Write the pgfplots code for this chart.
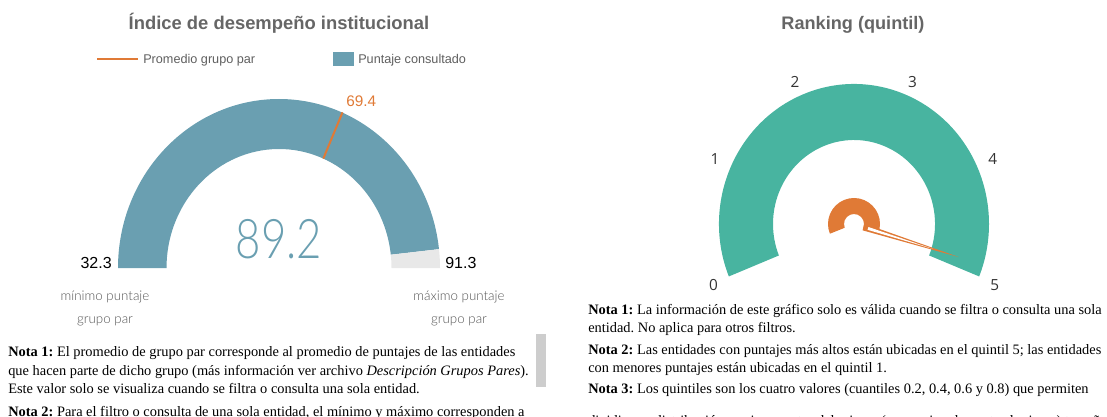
\documentclass[border=0pt]{standalone}
\usepackage{pgfplots}
\pgfplotsset{compat=1.18}
\usepackage{fontspec}
\setmainfont{Liberation Serif}
\newfontfamily\sansf{Liberation Sans}
\newfontfamily\uif{Open Sans}
\newfontfamily\lightf{Lato Light}
\definecolor{gteal}{HTML}{6A9FB1}
\definecolor{ggray}{HTML}{E8E8E8}
\definecolor{ggreen}{HTML}{48B4A0}
\definecolor{gorange}{HTML}{E07A36}
\definecolor{ttl}{HTML}{666666}
\definecolor{legtxt}{HTML}{5F5F5F}
\definecolor{capt}{HTML}{555555}
\definecolor{scroll}{HTML}{CDCDCD}
\definecolor{ticktxt}{HTML}{333333}
% ---- data ----
\def\gmin{32.3}\def\gmax{91.3}\def\gval{89.2}\def\gavg{69.4}
\def\qmin{0}\def\qmax{5}\def\qval{4.9}
\begin{document}
\frenchspacing
\begin{tikzpicture}
\pgfmathsetmacro\tv{180*(1-(\gval-\gmin)/(\gmax-\gmin))}
\pgfmathsetmacro\ta{180*(1-(\gavg-\gmin)/(\gmax-\gmin))}
\pgfmathsetmacro\tq{202-224*(\qval-\qmin)/(\qmax-\qmin)}
\begin{axis}[x=0.75pt,y=0.75pt,xmin=0,xmax=1107,ymin=0,ymax=417,y dir=reverse,
  hide axis,clip=false,scale only axis]
% ---------- left gauge ----------
\begin{scope}[shift={(axis cs:279,268)}]
\fill[gteal] (180:120.75pt and 126.75pt) arc[start angle=180,end angle=\tv,x radius=120.75pt,y radius=126.75pt]
  -- (\tv:84.375pt and 89.25pt) arc[start angle=\tv,end angle=180,x radius=84.375pt,y radius=89.25pt] -- cycle;
\fill[ggray] (\tv:120.75pt and 126.75pt) arc[start angle=\tv,end angle=0,x radius=120.75pt,y radius=126.75pt]
  -- (0:84.375pt and 89.25pt) arc[start angle=0,end angle=\tv,x radius=84.375pt,y radius=89.25pt] -- cycle;
\draw[gorange,line width=1.5pt] (\ta:84.375pt and 89.25pt) -- (\ta:121pt and 127pt);
\end{scope}
\node[font=\sansf\fontsize{11.5pt}{11.5pt}\selectfont,text=gorange,anchor=base west,inner sep=0pt] at (axis cs:346,107) {\gavg};
\node[font=\lightf\fontsize{41pt}{41pt}\selectfont,text=gteal,xscale=0.8,anchor=base] at (axis cs:279,258) {\gval};
\node[font=\sansf\fontsize{12pt}{12pt}\selectfont,anchor=base east,inner sep=0pt] at (axis cs:112,268) {\gmin};
\node[font=\sansf\fontsize{12pt}{12pt}\selectfont,anchor=base west,inner sep=0pt] at (axis cs:445,268) {\gmax};
\node[font=\lightf\fontsize{10pt}{10pt}\selectfont,text=capt,anchor=base] at (axis cs:105,300) {mínimo puntaje};
\node[font=\lightf\fontsize{10pt}{10pt}\selectfont,text=capt,anchor=base] at (axis cs:105,323) {grupo par};
\node[font=\lightf\fontsize{10pt}{10pt}\selectfont,text=capt,anchor=base] at (axis cs:459,300) {máximo puntaje};
\node[font=\lightf\fontsize{10pt}{10pt}\selectfont,text=capt,anchor=base] at (axis cs:459,323) {grupo par};
% title + legend
\node[font=\sansf\bfseries\fontsize{13.8pt}{13.8pt}\selectfont,text=ttl,anchor=base] at (axis cs:279,30) {Índice de desempeño institucional};
\draw[gorange,line width=2.2pt] (axis cs:97,59) -- (axis cs:137.5,59);
\node[font=\sansf\fontsize{9.5pt}{9.5pt}\selectfont,text=legtxt,anchor=base west,inner sep=0pt] at (axis cs:143,63.5) {Promedio grupo par};
\fill[gteal] (axis cs:333,52) rectangle (axis cs:353.5,66.5);
\node[font=\sansf\fontsize{9.5pt}{9.5pt}\selectfont,text=legtxt,anchor=base west,inner sep=0pt] at (axis cs:358,63.5) {Puntaje consultado};
% ---------- right gauge ----------
\begin{scope}[shift={(axis cs:854,224)}]
\fill[ggreen] (202:101.25pt and 105pt) arc[start angle=202,end angle=-22,x radius=101.25pt,y radius=105pt]
  -- (-22:60.75pt and 63pt) arc[start angle=-22,end angle=202,x radius=60.75pt,y radius=63pt] -- cycle;
\begin{scope}[every node/.style={font=\uif\fontsize{11.5pt}{11.5pt}\selectfont,text=ticktxt}]
\node at (203.5:115pt) {0};
\node at (155:115pt) {1};
\node at (112.6:115pt) {2};
\node at (67.6:115pt) {3};
\node at (25.2:115pt) {4};
\node at (-23.4:115pt) {5};
\end{scope}
\fill[gorange] (202:19.5pt) arc[start angle=202,end angle=-22,radius=19.5pt]
  -- (-22:7.5pt) arc[start angle=-22,end angle=202,radius=7.5pt] -- cycle;
\begin{scope}[rotate=\tq]
\fill[gorange] (7.5pt,2.6pt) -- (82.5pt,0pt) -- (7.5pt,-2.6pt) -- cycle;
\fill[white] (11pt,1.1pt) -- (62pt,0pt) -- (11pt,-1.1pt) -- cycle;
\end{scope}
\end{scope}
\node[font=\sansf\bfseries\fontsize{13.6pt}{13.6pt}\selectfont,text=ttl,anchor=base] at (axis cs:853,30) {Ranking (quintil)};
% ---------- notes ----------
\fill[scroll] (axis cs:536,334) rectangle (axis cs:546,387);
\begin{scope}[every node/.style={font=\fontsize{10.8pt}{13pt}\selectfont,anchor=base west,inner sep=0pt,text=black}]
\node at (axis cs:8,356.7) {\textbf{Nota 1:} El promedio de grupo par corresponde al promedio de puntajes de las entidades};
\node at (axis cs:8,375.2) {que hacen parte de dicho grupo (más información ver archivo \textit{Descripción Grupos Pares}).};
\node at (axis cs:8,393.7) {Este valor solo se visualiza cuando se filtra o consulta una sola entidad.};
\node at (axis cs:8,416.5) {\textbf{Nota 2:} Para el filtro o consulta de una sola entidad, el mínimo y máximo corresponden a};
\node at (axis cs:588,314) {\textbf{Nota 1:} La información de este gráfico solo es válida cuando se filtra o consulta una sola};
\node at (axis cs:588,332.3) {entidad. No aplica para otros filtros.};
\node at (axis cs:588,354) {\textbf{Nota 2:} Las entidades con puntajes más altos están ubicadas en el quintil 5; las entidades};
\node at (axis cs:588,372.3) {con menores puntajes están ubicadas en el quintil 1.};
\node at (axis cs:588,393.7) {\textbf{Nota 3:} Los quintiles son los cuatro valores (cuantiles 0.2, 0.4, 0.6 y 0.8) que permiten};
\node at (axis cs:588,425) {dividir una distribución en cinco partes del mismo (o aproximadamente el mismo) tamaño};
\end{scope}
\end{axis}
\pgfresetboundingbox
\useasboundingbox (0,0) rectangle (830.25pt,312.75pt);
\end{tikzpicture}
\end{document}
